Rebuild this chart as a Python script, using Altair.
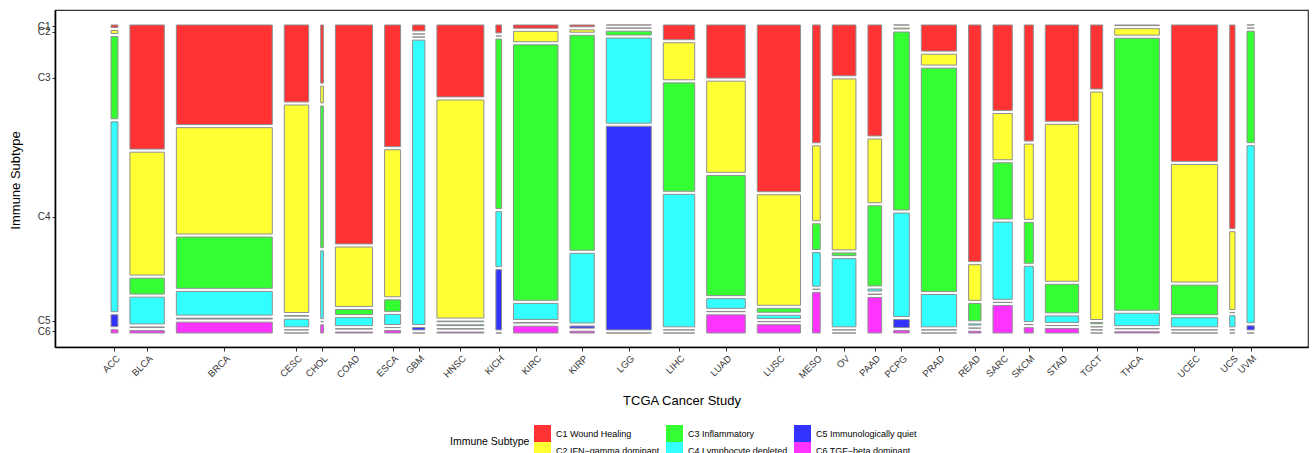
import altair as alt
import pandas as pd

# TCGA studies, left to right, with the number of tumour samples in each
studies = ["ACC", "BLCA", "BRCA", "CESC", "CHOL", "COAD", "ESCA", "GBM", "HNSC", "KICH",
           "KIRC", "KIRP", "LGG", "LIHC", "LUAD", "LUSC", "MESO", "OV", "PAAD", "PCPG",
           "PRAD", "READ", "SARC", "SKCM", "STAD", "TGCT", "THCA", "UCEC", "UCS", "UVM"]
samples = [78, 389, 1085, 276, 30, 421, 181, 139, 531, 64,
           502, 275, 509, 355, 436, 489, 87, 268, 155, 177,
           399, 140, 218, 102, 377, 136, 505, 524, 60, 82]

# Share (%) of each immune subtype within every study
c1 = [0.8, 42.2, 34.0, 26.3, 19.8, 74.0, 41.2, 2.0, 24.5, 2.7,
      1.1, 0.6, 0.0, 5.0, 18.1, 56.4, 40.3, 17.3, 37.8, 0.0,
      8.9, 80.3, 29.2, 39.5, 32.7, 21.8, 0.2, 46.6, 69.6, 0.0]
c2 = [1.0, 41.8, 36.3, 70.9, 5.7, 20.1, 49.8, 0.0, 74.3, 0.0,
      3.5, 0.8, 0.0, 12.6, 31.1, 37.4, 25.6, 58.2, 21.7, 0.3,
      3.7, 12.1, 15.8, 25.6, 53.3, 77.5, 2.2, 40.2, 26.6, 0.0]
c3 = [27.7, 5.4, 17.5, 0.2, 48.3, 1.7, 3.9, 0.0, 0.2, 57.7,
      86.1, 72.5, 1.3, 36.9, 41.0, 1.3, 8.8, 0.9, 27.3, 60.2,
      76.1, 5.9, 19.2, 13.9, 9.7, 0.4, 92.4, 10.1, 0.0, 38.0]
c4 = [63.9, 9.1, 8.1, 2.6, 23.1, 2.7, 3.4, 96.4, 0.3, 18.7,
      5.4, 23.5, 29.0, 45.1, 3.3, 1.1, 11.5, 23.2, 0.7, 35.0,
      11.0, 0.4, 26.4, 18.8, 2.2, 0.0, 4.2, 3.1, 3.8, 60.3]
c5 = [4.0, 0.2, 0.3, 0.0, 0.0, 0.1, 0.0, 0.8, 0.1, 20.5,
      0.2, 0.7, 69.4, 0.0, 0.1, 0.0, 0.0, 0.0, 0.1, 2.7,
      0.0, 0.0, 0.0, 0.0, 0.0, 0.0, 0.0, 0.0, 0.0, 1.4]
c6 = [1.1, 0.8, 3.7, 0.0, 2.8, 0.3, 0.8, 0.0, 0.3, 0.0,
      2.3, 0.6, 0.0, 0.0, 6.2, 2.8, 13.9, 0.0, 12.1, 0.8,
      0.0, 0.6, 9.4, 1.8, 1.5, 0.0, 0.4, 0.0, 0.0, 0.0]

subtype_codes = ["C1", "C2", "C3", "C4", "C5", "C6"]
subtype_names = ["C1 Wound Healing", "C2 IFN\u2212gamma dominant", "C3 Inflammatory",
                 "C4 Lymphocyte depleted", "C5 Immunologically quiet", "C6 TGF\u2212beta dominant"]
subtype_colors = ["#FF3333", "#FFFF33", "#33FF33", "#33FFFF", "#3333FF", "#FF33FF"]

# Mosaic layout: column widths follow sample counts, tile heights follow shares,
# with a fixed spacing between columns and between stacked tiles.
GAP_X = 0.0105
GAP_Y = 0.01
shares = [c1, c2, c3, c4, c5, c6]
free_x = 1 - GAP_X * (len(studies) - 1)
free_y = 1 - GAP_Y * (len(subtype_codes) - 1)
total_n = sum(samples)

rows = []
x_centers = []
left = 0.0
for i, study in enumerate(studies):
    w = samples[i] / total_n * free_x
    col = [s[i] for s in shares]
    col_total = sum(col)
    top = 1.0
    for k, name in enumerate(subtype_names):
        h = col[k] / col_total * free_y
        rows.append({"study": study, "subtype": name, "code": subtype_codes[k],
                     "x": left, "x2": left + w, "y": top - h, "y2": top})
        top -= h + GAP_Y
    x_centers.append(round(left + w / 2, 4))
    left += w + GAP_X

tiles = pd.DataFrame(rows)

# Y axis labels sit at the tile centres of the first column
first = tiles[tiles["study"] == studies[0]]
y_centers = [round((a + b) / 2, 4) for a, b in zip(first["y"], first["y2"])]

x_label_expr = "{" + ",".join(f"'{v:.4f}':'{s}'" for v, s in zip(x_centers, studies)) + "}[format(datum.value,'.4f')]"
y_label_expr = "{" + ",".join(f"'{v:.4f}':'{s}'" for v, s in zip(y_centers, subtype_codes)) + "}[format(datum.value,'.4f')]"

FONT = "Liberation Sans"

chart = alt.Chart(tiles).mark_rect(stroke="#8f8f8f", strokeWidth=1).encode(
    x=alt.X("x:Q", scale=alt.Scale(domain=[-0.049, 1.047], nice=False, zero=False),
            axis=alt.Axis(title="TCGA Cancer Study", values=x_centers, labelExpr=x_label_expr,
                          labelAngle=315, labelAlign="right", labelBaseline="top",
                          labelFontSize=9.5, labelPadding=2, labelOverlap=False,
                          tickSize=4, titleFontSize=13, titleY=47, titleBaseline="top")),
    x2="x2:Q",
    y=alt.Y("y:Q", scale=alt.Scale(domain=[-0.0455, 1.0487], nice=False, zero=False),
            axis=alt.Axis(title="Immune Subtype", values=y_centers, labelExpr=y_label_expr,
                          labelFontSize=10, labelPadding=2, labelOverlap=False,
                          tickSize=3, titleFontSize=13, titleX=-33, titleY=170,
                          titleAnchor="middle")),
    y2="y2:Q",
    color=alt.Color("subtype:N",
                    scale=alt.Scale(domain=subtype_names, range=subtype_colors),
                    legend=alt.Legend(title="Immune Subtype", orient="none", legendX=395, legendY=415,
                                      columns=3, titleOrient="left", symbolType="square",
                                      symbolSize=289, symbolStrokeWidth=0, symbolOpacity=1,
                                      rowPadding=0, columnPadding=6, labelOffset=5,
                                      labelFontSize=9, titleFontSize=10.5, titlePadding=4,
                                      titleFontWeight="normal", labelFont=FONT, titleFont=FONT,
                                      titleBaseline="middle", titleColor="#000", labelColor="#000")),
    tooltip=["study:N", "subtype:N"],
).properties(
    width=1253, height=337,
    autosize=alt.AutoSizeParams(type="none"),
    padding={"left": 55, "top": 10, "right": 5, "bottom": 106},
).configure_view(
    stroke="#333333", strokeWidth=1.2
).configure_axis(
    grid=False, labelFont=FONT, titleFont=FONT, labelColor="#333333", titleColor="#000000",
    titleFontWeight="normal", domainColor="#000000", domainWidth=1.6, tickColor="#333333"
)

chart.save("out.html", embed_options={"renderer": "svg", "actions": False})
